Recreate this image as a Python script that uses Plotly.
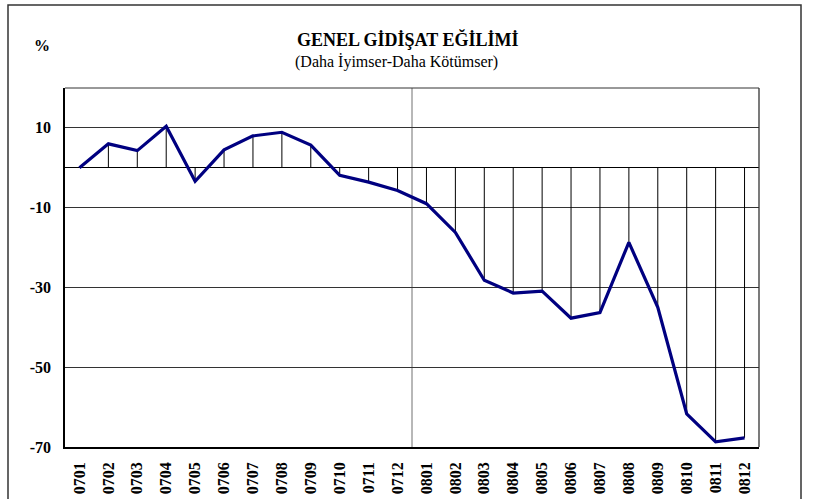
import plotly.graph_objects as go

months = ["0701","0702","0703","0704","0705","0706","0707","0708","0709","0710","0711","0712",
          "0801","0802","0803","0804","0805","0806","0807","0808","0809","0810","0811","0812"]
values = [0.0, 6.0, 4.3, 10.4, -3.4, 4.5, 8.0, 8.9, 5.7, -1.9, -3.6, -5.7,
          -9.0, -16.2, -28.2, -31.4, -30.9, -37.7, -36.3, -18.7, -35.0, -61.7, -68.7, -67.7]
y_ticks = [10, -10, -30, -50, -70]

W, H = 835, 499
L, R, T, B = 65, 759, 88, 447

def px(x):
    return (x - L) / (R - L)

def py(y):
    return (B - y) / (B - T)

drop_x, drop_y = [], []
for m, v in zip(months, values):
    drop_x += [m, m, None]
    drop_y += [0, v, None]

fig = go.Figure()
fig.add_trace(go.Scatter(x=drop_x, y=drop_y, mode="lines",
                         line=dict(color="black", width=1), hoverinfo="skip", showlegend=False))
fig.add_trace(go.Scatter(x=months, y=values, mode="lines",
                         line=dict(color="#000080", width=3.2), showlegend=False))

font = "Liberation Serif, Times New Roman, serif"
fig.update_layout(
    width=W, height=H,
    margin=dict(l=L, r=W - R, t=T, b=H - B, autoexpand=False),
    paper_bgcolor="white", plot_bgcolor="white",
    showlegend=False,
    font=dict(family=font, color="black"),
    xaxis=dict(type="category", categoryorder="array", categoryarray=months,
               range=[-0.5, len(months) - 0.5], tickangle=-90, automargin=False,
               tickfont=dict(family=font, size=16, color="black", weight="bold"),
               ticklabelstandoff=7,
               showgrid=False, showline=True, linecolor="black", linewidth=1.5,
               mirror=False, ticks="", zeroline=False, fixedrange=True),
    yaxis=dict(range=[-70, 20], tickvals=y_ticks, ticktext=[str(t) for t in y_ticks],
               tickfont=dict(family=font, size=16, color="black", weight="bold"),
               ticklabelstandoff=9, automargin=False,
               showgrid=True, gridcolor="#333333", gridwidth=1,
               zeroline=True, zerolinecolor="black", zerolinewidth=1,
               showline=True, linecolor="black", linewidth=1.5, ticks="",
               fixedrange=True),
)

shapes = [
    dict(type="line", xref="x", yref="paper", x0=11.5, x1=11.5, y0=0, y1=1,
         line=dict(color="#707070", width=1), layer="below"),
    dict(type="line", xref="paper", yref="paper", x0=0, x1=1, y0=1, y1=1,
         line=dict(color="#333333", width=1)),
    dict(type="line", xref="paper", yref="paper", x0=1, x1=1, y0=0, y1=1,
         line=dict(color="#333333", width=1.3)),
    dict(type="rect", xref="paper", yref="paper", x0=px(8), x1=px(801), y0=py(510), y1=py(5),
         line=dict(color="#333333", width=1.5)),
]
fig.update_layout(shapes=shapes)

fig.add_annotation(xref="paper", yref="paper", x=px(407), y=py(39), text="<b>GENEL GİDİŞAT EĞİLİMİ</b>",
                   showarrow=False, font=dict(family=font, size=18, color="black"),
                   xanchor="center", yanchor="middle")
fig.add_annotation(xref="paper", yref="paper", x=px(396), y=py(62), text="(Daha İyimser-Daha Kötümser)",
                   showarrow=False, font=dict(family=font, size=16, color="black"),
                   xanchor="center", yanchor="middle")
fig.add_annotation(xref="paper", yref="paper", x=px(42), y=py(45), text="<b>%</b>",
                   showarrow=False, font=dict(family=font, size=16, color="black"),
                   xanchor="center", yanchor="middle")

fig.write_html("out.html", config={"displayModeBar": False},
               post_script="document.body.style.margin='0';document.body.style.padding='0';")
